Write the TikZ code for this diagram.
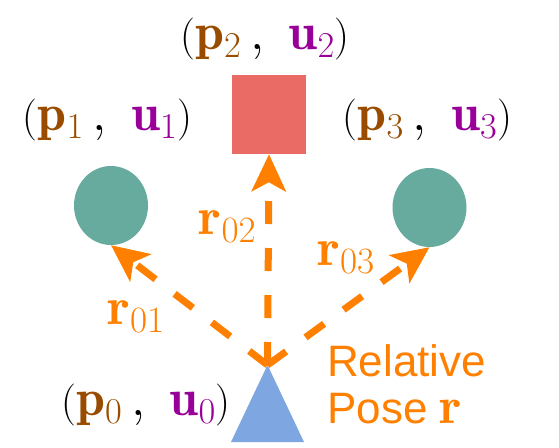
\RequirePackage{fix-cm}
\documentclass[tikz,border=0pt]{standalone}
\usepackage{fontspec}
\usepackage{amsmath}
\newfontfamily\labelsans{Liberation Sans}
\usetikzlibrary{arrows.meta,shapes.geometric}
\definecolor{pbrown}{HTML}{994C00}
\definecolor{upurple}{HTML}{990099}
\definecolor{rorange}{HTML}{FF8000}
\definecolor{sqred}{HTML}{EA6B66}
\definecolor{cteal}{HTML}{67AB9F}
\definecolor{tblue}{HTML}{7EA6E0}
\newcommand{\parsz}{\fontsize{42}{46}\selectfont}
\newcommand{\pu}[1]{{\parsz(}$\textcolor{pbrown}{\mathbf{p}_{#1}}\,,\ \textcolor{upurple}{\mathbf{u}_{#1}}${\parsz)}}
\begin{document}
\begin{tikzpicture}[x=1pt,y=-1pt,
  tuple/.style={font=\fontsize{52}{56}\selectfont, inner sep=0pt},
  rlabel/.style={font=\fontsize{53}{57}\selectfont, text=rorange, inner sep=0pt},
  ball/.style={ellipse, fill=cteal, minimum width=74pt, minimum height=79pt, inner sep=0pt},
  arr/.style={draw=rorange, line width=7pt, dash pattern=on 23pt off 24pt,
    -{Stealth[length=37pt,width=34pt,inset=9pt]}}]
\useasboundingbox (0,0) rectangle (559,447);
% shapes
\node[rectangle, fill=sqred, minimum width=74pt, minimum height=79pt, inner sep=0pt] (sq) at (269,114.5) {};
\node[ball] (c1) at (111,205.5) {};
\node[ball] (c3) at (429.5,207.5) {};
\coordinate (apex) at (267.5,365);
\coordinate (bl) at (231,442);
\coordinate (br) at (304,442);
\fill[tblue] (apex) -- (br) -- (bl) -- cycle;
% arrows
\draw[arr] (apex) -- (sq.south);
\draw[arr] (apex) -- (c1.south);
\draw[arr] (apex) -- (c3.south);
% labels
\node[tuple] (t2) at (265,39) {\pu{2}};
\node[tuple] (t1) at (107.5,120) {\pu{1}};
\node[tuple] (t3) at (427.5,120) {\pu{3}};
\node[tuple] (t0) at (146,405) {\pu{0}};
\node[rlabel] (r02) at (227.5,227) {$\mathbf{r}_{02}$};
\node[rlabel] (r03) at (346,258) {$\mathbf{r}_{03}$};
\node[rlabel] (r01) at (136,317) {$\mathbf{r}_{01}$};
\node[font=\fontsize{44}{47}\selectfont\labelsans, text=rorange, align=left, anchor=north west, inner sep=0pt] (rel) at (327,344) {Relative\\Pose {\fontsize{52}{54}\selectfont$\mathbf{r}$}};
\end{tikzpicture}
\end{document}
